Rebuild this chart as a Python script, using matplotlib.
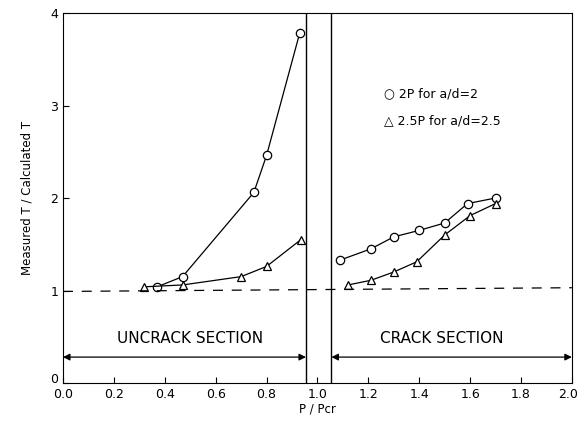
import matplotlib
matplotlib.use("Agg")
import matplotlib.pyplot as plt
from matplotlib.transforms import ScaledTranslation

# Data
c_left_x = [0.37, 0.47, 0.75, 0.80, 0.93]
c_left_y = [1.04, 1.15, 2.06, 2.46, 3.78]
t_left_x = [0.32, 0.47, 0.70, 0.80, 0.935]
t_left_y = [1.04, 1.06, 1.15, 1.26, 1.55]
c_right_x = [1.09, 1.21, 1.30, 1.40, 1.50, 1.59, 1.70]
c_right_y = [1.33, 1.45, 1.58, 1.65, 1.73, 1.94, 2.00]
t_right_x = [1.12, 1.21, 1.30, 1.39, 1.50, 1.60, 1.70]
t_right_y = [1.06, 1.11, 1.20, 1.31, 1.60, 1.81, 1.94]
x_ticks = [0.0, 0.2, 0.4, 0.6, 0.8, 1.0, 1.2, 1.4, 1.6, 1.8, 2.0]
y_ticks = [0, 1, 2, 3, 4]
band = [0.955, 1.055]
arrow_y = 0.28
legend_labels = ["○ 2P for a/d=2", "△ 2.5P for a/d=2.5"]

fig = plt.figure(figsize=(5.8, 4.21), dpi=100)
ax = fig.add_axes([0.1086, 0.0903, 0.8774, 0.8787])
ax.set_xlim(0, 2.0)
ax.set_ylim(0, 4)

k = dict(color="black", lw=0.9, mfc="white", mec="black", mew=0.9, ms=6)
ax.plot(c_left_x, c_left_y, marker="o", **k)
ax.plot(t_left_x, t_left_y, marker="^", **k)
ax.plot(c_right_x, c_right_y, marker="o", **k)
ax.plot(t_right_x, t_right_y, marker="^", **k)

ax.plot([0, 2.0], [0.99, 1.03], color="black", lw=0.9, ls=(0, (8, 7)))
for b in band:
    ax.axvline(b, color="black", lw=1.0)

ax.annotate("", xy=(0.0, arrow_y), xytext=(band[0], arrow_y),
            arrowprops=dict(arrowstyle="<|-|>", color="black", lw=0.9,
                            mutation_scale=10, shrinkA=0, shrinkB=0))
ax.annotate("", xy=(band[1], arrow_y), xytext=(2.0, arrow_y),
            arrowprops=dict(arrowstyle="<|-|>", color="black", lw=0.9,
                            mutation_scale=10, shrinkA=0, shrinkB=0))
ax.text(0.5, arrow_y + 0.12, "UNCRACK SECTION", ha="center", va="bottom", fontsize=11)
ax.text(1.49, arrow_y + 0.12, "CRACK SECTION", ha="center", va="bottom", fontsize=11)

ax.text(1.26, 3.13, legend_labels[0], ha="left", va="center", fontsize=9)
ax.text(1.26, 2.84, legend_labels[1], ha="left", va="center", fontsize=9)

ax.set_xticks(x_ticks)
ax.set_xticklabels([f"{v:.1f}" for v in x_ticks])
ax.set_yticks(y_ticks)
ax.tick_params(direction="in", labelsize=9, length=4)
ax.set_xlabel("P / Pcr", fontsize=8.5, labelpad=1)
ax.set_ylabel("Measured T / Calculated T", fontsize=8.5, labelpad=12)

fig.canvas.draw()
xl = ax.get_xticklabels()
xl[-1].set_transform(xl[-1].get_transform() + ScaledTranslation(-4/100, 0, fig.dpi_scale_trans))
yl = ax.get_yticklabels()
yl[0].set_transform(yl[0].get_transform() + ScaledTranslation(0, 5/100, fig.dpi_scale_trans))

fig.savefig("out.png", dpi=100)
